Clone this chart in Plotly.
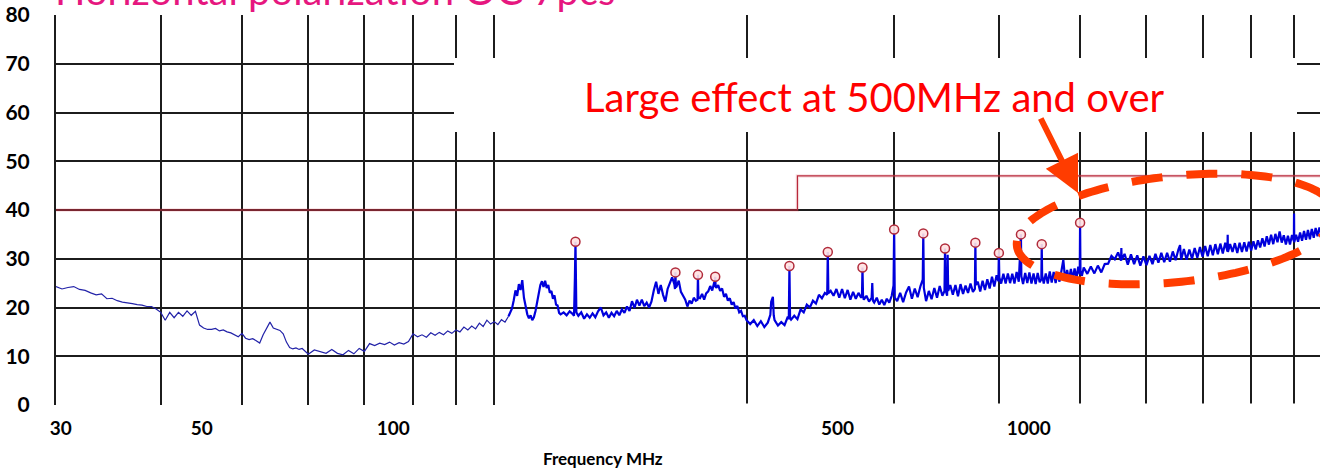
import numpy as np
import plotly.graph_objects as go

# ---------------------------------------------------------------
# Radiated emission sweep, 30 MHz - 1 GHz (level in dBuV/m)
# ---------------------------------------------------------------
sweep_a_freq = [30, 30.5, 31, 31.5, 32, 32.5, 33, 33.5, 34, 34.5, 35, 35.5, 36, 36.5, 37, 37.5,
                38, 38.5, 39, 39.5, 40, 40.5, 41, 41.5, 42, 42.5, 43, 43.5, 44, 44.5, 45, 45.5,
                46, 46.5, 47, 47.5, 48, 48.5, 49, 49.5, 50, 50.5, 51, 51.5, 52, 52.5, 53, 53.5,
                54, 54.5, 55, 55.5, 56, 56.5, 57, 57.5, 58, 58.5, 59, 59.5, 60]
sweep_a_level = [24.3, 23.8, 24.1, 24.3, 23.7, 23.5, 23.0, 22.6, 22.8, 21.8, 21.9, 21.4, 21.1, 21.0, 20.8, 20.6,
                 20.5, 20.2, 20.2, 19.7, 19.0, 17.4, 19.0, 17.9, 19.0, 18.2, 19.3, 18.4, 19.2, 16.4, 15.8, 15.5,
                 15.5, 15.7, 15.2, 15.4, 15.0, 14.8, 14.4, 14.0, 14.7, 13.7, 13.4, 13.6, 13.2, 12.7, 14.4, 15.6,
                 17.0, 15.8, 15.6, 15.3, 14.6, 12.9, 11.8, 11.5, 11.7, 11.4, 11.6, 10.9, 10.4]

sweep_b_freq = [61, 62, 63, 64, 65, 66, 67, 68, 69, 70, 71, 72, 73, 74, 75, 76, 77, 78, 79, 80,
                81, 82, 83, 84, 85, 86, 87, 88, 89, 90, 91, 92, 93, 94, 95, 96, 97, 98, 99, 100,
                101, 102, 103, 104, 105, 105.5, 106, 106.5, 107, 107.5, 108, 108.5, 109, 109.5,
                110, 110.5, 111, 111.5, 112, 112.5, 113, 113.5, 114, 114.5, 115, 115.5, 116, 116.5,
                117, 117.5, 118, 118.5, 119, 119.5, 120, 121, 122, 123, 124, 124.5, 124.8, 125.3,
                126, 127, 128, 129, 130]
sweep_b_level = [11.3, 11.0, 10.6, 11.4, 10.6, 10.3, 11.2, 10.5, 11.6, 11.0, 12.6, 12.2, 12.7, 12.4, 12.9, 12.3, 12.8, 12.5, 13.0, 14.6,
                 14.0, 14.4, 13.9, 14.8, 14.3, 14.9, 14.4, 15.2, 14.7, 15.4, 15.0, 16.0, 15.4, 16.2, 15.6, 16.8, 16.1, 17.4, 16.6, 17.1,
                 16.5, 17.5, 17.0, 18.2, 19.8, 21.5, 23.5, 22.4, 24.8, 23.6, 25.6, 22.0, 20.0, 18.6,
                 17.8, 18.4, 17.4, 18.0, 19.3, 21.4, 23.3, 24.6, 25.4, 24.2, 25.5, 24.0, 24.6, 23.0,
                 23.4, 21.8, 22.5, 20.6, 20.4, 18.9, 18.6, 19.0, 18.4, 19.2, 18.7, 18.3, 26.0, 19.0,
                 18.3, 19.0, 17.7, 18.6, 17.9]

sweep_c_freq = [131, 132, 133, 134, 135, 136, 137, 138, 139, 140, 141, 142, 143, 144, 145, 146,
                147, 148, 149, 150, 151, 152, 153, 154, 155, 156, 157, 158, 159, 160, 161, 162,
                163, 164, 164.3, 164.7, 165, 166, 167, 168, 169, 170, 171, 172, 173, 174, 174.8,
                175.2, 176, 177, 178, 179, 180, 181, 182, 183, 183.3, 183.7, 184, 185, 186, 187,
                188, 189, 190, 191, 192, 193, 194, 195, 196, 197, 198, 199, 200]
sweep_c_level = [18.8, 18.0, 19.2, 20.0, 18.4, 19.0, 17.9, 18.9, 18.2, 19.3, 18.4, 19.6, 18.9, 20.2, 19.3, 21.3,
                 19.9, 21.6, 20.4, 21.6, 20.3, 21.0, 20.0, 21.2, 23.5, 25.3, 22.8, 24.6, 22.6, 21.2, 23.8, 25.0,
                 26.2, 24.8, 23.8, 24.2, 24.3, 25.5, 23.2, 22.4, 21.6, 20.2, 21.4, 20.8, 22.0, 21.4, 21.6,
                 22.0, 21.9, 22.8, 21.6, 22.9, 23.3, 24.4, 23.5, 25.2, 24.2, 24.5, 24.0, 24.6, 23.4, 23.9,
                 22.2, 22.8, 21.4, 21.9, 20.6, 21.1, 19.8, 20.3, 19.0, 19.3, 18.2, 18.3, 17.4]

sweep_d_freq = [202, 204, 206, 208, 210, 212, 213.5, 214, 215, 215.5, 216, 218, 220, 222, 224, 224.6,
                225.4, 226, 228, 230, 232, 234, 236, 238, 240, 242, 244, 246, 248, 249.6, 250.4, 252,
                254, 256, 258, 260, 262, 264, 266, 268, 270, 272, 274, 274.6, 275.4, 276, 278, 280,
                282, 282.5, 283, 284, 286, 288, 290, 292, 294, 296, 298, 299.5, 300.5]
sweep_d_level = [16.6, 17.4, 16.2, 17.2, 16.0, 16.9, 18.5, 21.2, 22.2, 18.4, 17.4, 16.3, 17.0, 16.4, 18.1, 17.6,
                 17.8, 17.5, 18.3, 17.6, 19.6, 19.0, 20.6, 20.0, 21.4, 20.8, 22.6, 21.9, 23.0, 22.6, 22.9, 23.4,
                 22.4, 23.8, 22.0, 23.8, 21.9, 23.6, 21.6, 23.2, 21.8, 23.0, 22.0, 22.3, 22.5, 21.6, 22.4, 21.2,
                 22.0, 25.0, 21.4, 21.0, 22.0, 20.6, 21.6, 20.5, 21.8, 21.0, 22.4, 24.5, 22.0]

sweep_e_freq = [302.5, 305, 307.5, 310, 312.5, 315, 317.5, 320, 322.5, 324.5, 325.5, 327.5, 330, 332.5,
                335, 337.5, 340, 342.5, 344.5, 345.5, 347, 347.5, 348, 350, 352.5, 355, 357.5, 360,
                362.5, 365, 367.5, 370, 372.5, 374.5, 375.5, 377.5, 380, 382.5, 385, 387.5, 390, 392.5,
                395, 397.5, 399.5, 400.5, 402.5, 405, 407.5, 410, 412.5, 415, 417.5, 420, 422.5, 424,
                425.5, 427.5, 430, 432.5, 435, 437.5, 440, 442.5, 445, 447.5, 449.5, 450.5, 452.5, 455,
                457.5, 460, 462.5, 465, 467.5, 470, 472.5, 475, 477.5, 480, 482.5, 485, 487.5, 490,
                492.5, 495, 497.5, 499.5]
sweep_e_level = [21.3, 23.0, 21.1, 23.1, 24.3, 21.8, 23.9, 22.1, 24.4, 25.7, 24.0, 21.3, 23.4, 21.7,
                 24.0, 22.0, 24.4, 22.4, 23.4, 23.6, 22.4, 30.8, 23.4, 24.6, 22.6, 24.6, 22.3, 24.8,
                 22.8, 24.5, 23.0, 24.9, 23.2, 23.8, 24.6, 25.3, 23.3, 25.5, 23.6, 25.8, 23.9, 26.3,
                 24.3, 26.6, 25.4, 26.2, 24.9, 26.9, 24.9, 27.0, 25.0, 26.9, 24.9, 27.3, 25.3, 30.1,
                 26.4, 24.8, 27.1, 25.0, 27.2, 24.9, 27.0, 24.8, 27.1, 25.2, 25.8, 26.6, 24.9, 27.0,
                 24.9, 27.4, 25.1, 27.3, 25.0, 27.2, 25.3, 27.5, 29.8, 25.5, 27.7, 25.6, 27.9, 25.8,
                 28.0, 26.0, 28.4, 26.8]

sweep_f_freq = [500.5, 502.5, 505, 510, 515, 520, 525, 530, 535, 540, 545, 550, 555, 559.5, 560, 560.5,
                565, 570, 575, 580, 585, 590, 595, 600, 605, 610, 615, 620, 625, 630, 635, 640, 645, 650,
                655, 658, 660, 665, 670, 675, 680, 685, 690, 695, 700, 705, 710, 715, 720, 725, 730, 735,
                740, 745, 749.5, 750, 750.5, 755, 760, 765, 770, 775, 780, 785, 790, 795, 800, 805, 810,
                815, 820, 825, 830, 835, 840, 845, 850, 855, 860, 865, 870, 875, 880, 885, 890, 895,
                899.5, 900, 900.5, 905, 910, 915, 920, 925, 930, 935, 940, 945, 950, 955, 960, 965, 970]
sweep_f_level = [27.6, 26.5, 28.2, 26.9, 28.4, 27.0, 28.6, 27.2, 28.9, 29.0, 30.6, 29.9, 31.3, 29.6, 32.2, 29.8,
                 31.0, 28.8, 30.9, 28.9, 30.7, 28.6, 30.5, 28.7, 30.6, 28.9, 31.0, 29.2, 31.2, 29.3, 31.2, 29.4, 31.5, 29.7,
                 31.9, 32.8, 29.8, 32.0, 29.8, 31.9, 30.0, 32.2, 30.2, 32.4, 30.4, 32.6, 30.5, 32.8, 30.7, 33.0, 30.9, 33.1,
                 31.1, 33.3, 31.5, 34.9, 31.4, 33.0, 31.4, 33.2, 31.2, 33.3, 31.4, 33.4, 31.5, 33.5, 31.7, 33.6, 31.9,
                 33.8, 32.3, 34.2, 32.5, 34.6, 32.9, 34.9, 33.0, 35.1, 33.4, 35.6, 33.3, 34.8, 32.9, 34.7, 32.9, 34.9,
                 33.6, 39.3, 33.4, 34.9, 33.5, 35.4, 33.7, 35.7, 33.9, 35.9, 34.0, 36.1, 34.3, 36.3, 34.6, 36.4, 35.1]

# Marked emission peaks
peak_freq = [125, 164.5, 175, 183.5, 225, 250, 275, 300, 325, 345, 375, 400, 425, 450, 500]
peak_level = [33.5, 27.2, 26.7, 26.3, 28.5, 31.4, 28.2, 36.0, 35.2, 32.1, 33.3, 31.2, 35.0, 33.0, 37.4]

# Class B limit (3 m)
limit_freq = [30, 230, 230, 1000]
limit_level = [40, 40, 47, 47]

# Axis ticks
grid_freq = [30, 40, 50, 60, 70, 80, 90, 100, 200, 300, 400, 500, 600, 700, 800, 900]
label_freq = [30, 50, 100, 500, 1000]
level_ticks = [0, 10, 20, 30, 40, 50, 60, 70, 80]

# ---------------------------------------------------------------
segments = [(sweep_a_freq, sweep_a_level), (sweep_b_freq, sweep_b_level),
            (sweep_c_freq, sweep_c_level), (sweep_d_freq, sweep_d_level),
            (sweep_e_freq, sweep_e_level), (sweep_f_freq, sweep_f_level)]
for f, l in segments:
    assert len(f) == len(l), (len(f), len(l), f[0])
freq = np.concatenate([np.array(f, float) for f, _ in segments] + [np.array(peak_freq, float)])
level = np.concatenate([np.array(l, float) for _, l in segments] + [np.array(peak_level, float)])
order = np.argsort(freq, kind="mergesort")
freq, level = freq[order], level[order]

# the quiet low band is drawn finer than the busy upper band
SPLIT_MHZ = 104
low = freq <= SPLIT_MHZ
high = freq >= SPLIT_MHZ

W, H = 1320, 468
ML, MR, MT, MB = 56, 0, 15, 63
PW, PH = W - ML - MR, H - MT - MB


def paper(px, py):
    """Pixel position on the page -> paper coordinates of the plot area."""
    return (px - ML) / PW, (H - MB - py) / PH


FONT = "Lato"
ORANGE = "#ff3c00"
GRID = "#1c1c1c"

fig = go.Figure()
fig.add_trace(go.Scatter(x=limit_freq, y=limit_level, mode="lines",
                         line=dict(color="rgba(210,80,90,0.18)", width=3.5), hoverinfo="skip", showlegend=False))
fig.add_trace(go.Scatter(x=limit_freq, y=limit_level, mode="lines",
                         line=dict(color="#b8283a", width=1.2), hoverinfo="skip", showlegend=False))
fig.add_trace(go.Scatter(x=freq[low], y=level[low], mode="lines",
                         line=dict(color="#2222a8", width=1.2), showlegend=False))
fig.add_trace(go.Scatter(x=freq[high], y=level[high], mode="lines",
                         line=dict(color="#0000dc", width=2.2), showlegend=False))
fig.add_trace(go.Scatter(x=peak_freq, y=peak_level, mode="markers",
                         marker=dict(symbol="circle", size=9, color="rgba(255,225,225,0.9)",
                                     line=dict(color="#b02a3a", width=1.5)),
                         showlegend=False))
# carrier for the labelled frequency scale
fig.add_trace(go.Scatter(x=[], y=[], xaxis="x2", showlegend=False, hoverinfo="skip"))

# dashed ellipse around the upper band
cx, cy, a, b, tilt = 1176, 229, 160, 53, np.radians(6)
t = np.linspace(0, 2 * np.pi, 181)
ex = cx + a * np.cos(t) * np.cos(tilt) + b * np.sin(t) * np.sin(tilt)
ey = cy - a * np.cos(t) * np.sin(tilt) + b * np.sin(t) * np.cos(tilt)
pts = [paper(x, y) for x, y in zip(ex, ey)]
ellipse_path = "M " + " L ".join(f"{px:.4f},{py:.4f}" for px, py in pts) + " Z"

bx0, by_top = paper(454, 58)
bx1, by_bot = paper(1297, 132)
wx0, wy0 = paper(535, 403.5)
_, wy1 = paper(535, 413)

shapes = [
    dict(type="rect", xref="paper", yref="paper", x0=bx0, x1=bx1, y0=by_bot, y1=by_top,
         fillcolor="white", line=dict(width=0), layer="above"),
    dict(type="rect", xref="paper", yref="paper", x0=wx0, x1=1.0, y0=wy1, y1=wy0,
         fillcolor="white", line=dict(width=0), layer="above"),
    dict(type="path", xref="paper", yref="paper", path=ellipse_path,
         line=dict(color=ORANGE, width=8, dash="31px,24px"), layer="above"),
]

tip_x, tip_y = paper(1078, 193)
tx, ty = paper(53, 16)
lx, ly = paper(874, 97)
fx, fy = paper(603, 458)

annotations = [
    dict(text="Horizontal polarization OC 7pcs", xref="paper", yref="paper", x=tx, y=ty,
         xanchor="left", yanchor="bottom", showarrow=False,
         font=dict(family=FONT, size=40, color="#e6177f")),
    dict(text="Large effect at 500MHz and over", xref="paper", yref="paper", x=lx, y=ly,
         xanchor="center", yanchor="middle", showarrow=False,
         font=dict(family=FONT, size=40, color="#ff0000")),
    dict(text="", xref="paper", yref="paper", x=tip_x, y=tip_y, ax=-38, ay=-76,
         axref="pixel", ayref="pixel", showarrow=True, arrowhead=2, arrowsize=1.2,
         arrowwidth=6, arrowcolor=ORANGE, standoff=0),
    dict(text="<b>Frequency MHz</b>", xref="paper", yref="paper", x=fx, y=fy,
         xanchor="center", yanchor="middle", showarrow=False,
         font=dict(family=FONT, size=17, color="black")),
]

# labelled scale: spans the plot area in its own decade width
lab_lo, lab_hi = 1.4695, 3.4582

fig.update_layout(
    width=W, height=H, margin=dict(l=ML, r=MR, t=MT, b=MB, pad=0),
    paper_bgcolor="white", plot_bgcolor="white",
    font=dict(family=FONT, color="black"),
    xaxis=dict(type="log", range=[np.log10(30), np.log10(966.5)], tickvals=grid_freq,
               showticklabels=False, ticks="", showgrid=True, gridcolor=GRID, gridwidth=2,
               zeroline=False, showline=False),
    xaxis2=dict(type="log", range=[lab_lo, lab_hi], overlaying="x", anchor="y", side="bottom",
                tickvals=label_freq, ticktext=[str(v) for v in label_freq], showgrid=False,
                zeroline=False, showline=False, ticks="", ticklabelstandoff=10,
                tickfont=dict(family=FONT, size=19, color="black", weight="bold")),
    yaxis=dict(range=[0, 80], tickvals=level_ticks, showgrid=True, gridcolor=GRID, gridwidth=2,
               zeroline=False, showline=True, linecolor=GRID, linewidth=2, ticks="",
               ticklabelstandoff=20,
               tickfont=dict(family=FONT, size=21, color="black", weight="bold")),
    shapes=shapes,
    annotations=annotations,
    showlegend=False,
)

fig.write_html("out.html")
